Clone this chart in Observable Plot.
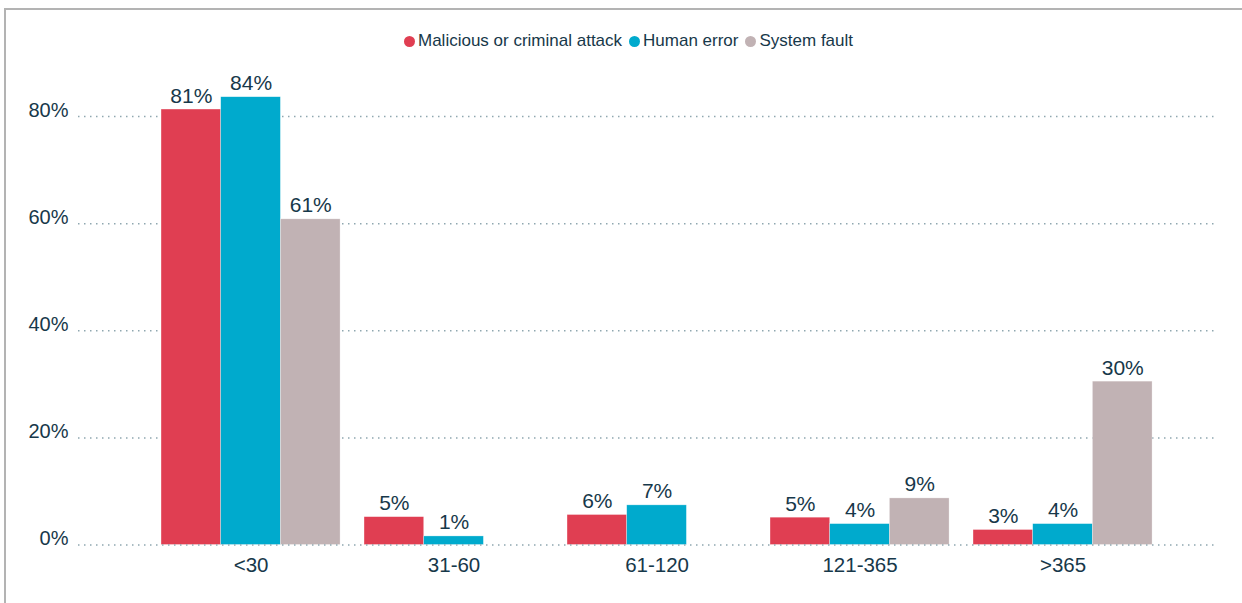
<!DOCTYPE html>
<html>
<head>
<meta charset="utf-8">
<script src="https://cdn.jsdelivr.net/npm/d3@7"></script>
<script src="https://cdn.jsdelivr.net/npm/@observablehq/plot@0.6"></script>
<style>
  html, body { margin: 0; padding: 0; background: #fff; width: 1242px; height: 603px; overflow: hidden; }
  body { position: relative; font-family: "Liberation Sans", Arial, sans-serif; color: #17384a; }
  #frame { position: absolute; left: 4px; top: 8px; width: 1400px; height: 800px;
           border-top: 2px solid #b3b3b3; border-left: 2px solid #b3b3b3; }
  #legend { position: absolute; left: 404px; top: 31px; height: 20px; display: flex; align-items: center;
            font-size: 17px; white-space: nowrap; }
  #legend .item { display: flex; align-items: center; margin-right: 7px; }
  #legend .dot { width: 11px; height: 11px; border-radius: 50%; margin-right: 3px; }
  #chart { position: absolute; left: 0; top: 60px; }
</style>
</head>
<body>
<div id="frame"></div>
<div id="legend"></div>
<div id="chart"></div>
<script>
const categories = ["<30", "31-60", "61-120", "121-365", ">365"];
const series = ["Malicious or criminal attack", "Human error", "System fault"];
const colors = ["#e03e52", "#00aacd", "#c1b2b4"];
const malicious = [81.3, 5.2, 5.6, 5.1, 2.8];
const human = [83.6, 1.6, 7.4, 3.9, 3.9];
const systemFault = [60.8, null, null, 8.7, 30.5];
const maliciousLabels = ["81%", "5%", "6%", "5%", "3%"];
const humanLabels = ["84%", "1%", "7%", "4%", "4%"];
const systemLabels = ["61%", null, null, "9%", "30%"];
const yTicks = [0, 20, 40, 60, 80];

const seriesValues = [malicious, human, systemFault];
const seriesLabels = [maliciousLabels, humanLabels, systemLabels];

const barW = 0.294; // fraction of a category step per bar
const rows = [];
categories.forEach((c, i) => {
  series.forEach((s, j) => {
    const v = seriesValues[j][i];
    if (v == null) return;
    const x1 = i + (j - 1.5) * barW;
    rows.push({cat: c, series: s, value: v, label: seriesLabels[j][i], x1, x2: x1 + barW, xm: x1 + barW / 2});
  });
});

// legend
const leg = document.getElementById("legend");
series.forEach((s, j) => {
  const it = document.createElement("div");
  it.className = "item";
  const d = document.createElement("span");
  d.className = "dot";
  d.style.background = colors[j];
  const t = document.createElement("span");
  t.textContent = s;
  it.appendChild(d); it.appendChild(t);
  leg.appendChild(it);
});

const textColor = "#17384a";
const gridStyle = {stroke: "#8fa7b0", strokeWidth: 1.5, strokeDasharray: "1.5,4.5", strokeOpacity: 1};

const chart = Plot.plot({
  width: 1242,
  height: 543,
  marginLeft: 78,
  marginRight: 27,
  marginTop: 56,
  marginBottom: 58.5,
  style: {fontFamily: "'Liberation Sans', Arial, sans-serif", fontSize: "20px", color: textColor, background: "transparent"},
  x: {type: "linear", domain: [-0.85, 4.751]},
  y: {domain: [0, 80]},
  color: {domain: series, range: colors},
  marks: [
    Plot.ruleY(yTicks.filter(d => d > 0), gridStyle),
    Plot.axisY(yTicks, {tickSize: 0, tickPadding: 10, dy: -6, tickFormat: d => d + "%", label: null, fontSize: 20, fill: textColor}),
    Plot.axisX([0, 1, 2, 3, 4], {tickSize: 0, tickPadding: 12, tickFormat: i => categories[i], label: null, fontSize: 20.5, fill: textColor}),
    Plot.rectY(rows, {x1: "x1", x2: "x2", y: "value", fill: "series", stroke: "#ffffff", strokeOpacity: 0.5, strokeWidth: 0.6}),
    Plot.ruleY([0], gridStyle),
    Plot.text(rows, {x: "xm", y: "value", text: "label", lineAnchor: "bottom", dy: -7, fontSize: 21, fill: textColor})
  ]
});
document.getElementById("chart").appendChild(chart);
</script>
</body>
</html>
